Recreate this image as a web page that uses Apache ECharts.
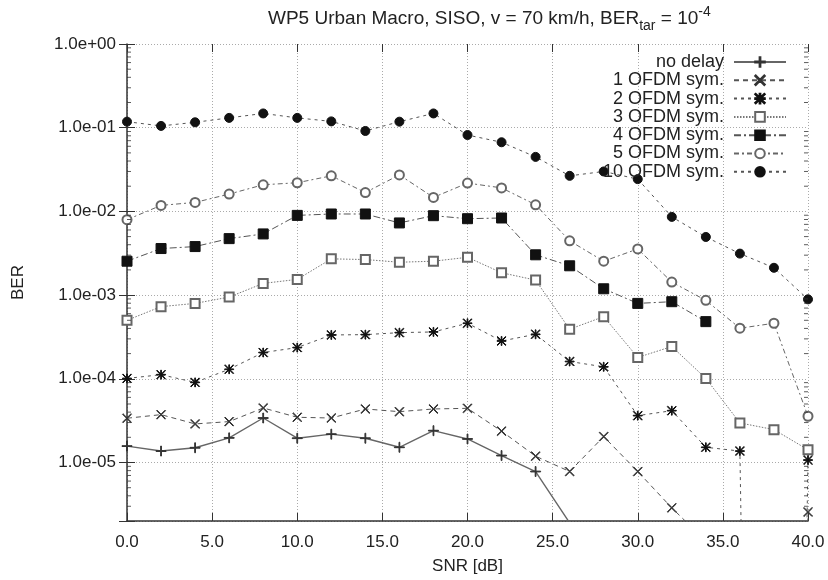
<!DOCTYPE html>
<html>
<head>
<meta charset="utf-8">
<script src="https://cdn.jsdelivr.net/npm/echarts@6/dist/echarts.min.js"></script>
<style>
html,body{margin:0;padding:0;background:#fff;}
#chart{width:828px;height:580px;}
</style>
</head>
<body>
<div id="chart"></div>
<script>
// SNR values (dB)
var snr = [0, 2, 4, 6, 8, 10, 12, 14, 16, 18, 20, 22, 24, 26, 28, 30, 32, 34, 36, 38, 40];
// x tick labels
var xTicks = [0, 5, 10, 15, 20, 25, 30, 35, 40];
// y tick labels (decades)
var yTicks = [1e-5, 1e-4, 1e-3, 1e-2, 1e-1, 1];
// y minor tick values (2..9 within each decade)
var yMinorTicks = [
  3e-6, 4e-6, 5e-6, 6e-6, 7e-6, 8e-6, 9e-6,
  2e-5, 3e-5, 4e-5, 5e-5, 6e-5, 7e-5, 8e-5, 9e-5,
  2e-4, 3e-4, 4e-4, 5e-4, 6e-4, 7e-4, 8e-4, 9e-4,
  2e-3, 3e-3, 4e-3, 5e-3, 6e-3, 7e-3, 8e-3, 9e-3,
  2e-2, 3e-2, 4e-2, 5e-2, 6e-2, 7e-2, 8e-2, 9e-2,
  0.2, 0.3, 0.4, 0.5, 0.6, 0.7, 0.8, 0.9
];

var seriesNames = ['no delay', '1 OFDM sym.', '2 OFDM sym.', '3 OFDM sym.', '4 OFDM sym.', '5 OFDM sym.', '10 OFDM sym.'];

// BER values (1e-30 = error free / below plot range)
var noDelay = [1.57e-5, 1.37e-5, 1.50e-5, 1.97e-5, 3.40e-5, 1.95e-5, 2.18e-5, 1.95e-5, 1.52e-5, 2.40e-5, 1.91e-5, 1.21e-5, 7.8e-6, 1.9e-6, null, null, null, null, null, null, null];
var ofdm1 = [3.38e-5, 3.73e-5, 2.89e-5, 3.08e-5, 4.48e-5, 3.47e-5, 3.40e-5, 4.36e-5, 4.05e-5, 4.36e-5, 4.44e-5, 2.37e-5, 1.19e-5, 7.8e-6, 2.04e-5, 7.8e-6, 2.87e-6, 1.15e-6, 1e-30, 1e-30, 2.56e-6];
var ofdm2 = [1.01e-4, 1.12e-4, 9.06e-5, 1.30e-4, 2.06e-4, 2.36e-4, 3.34e-4, 3.37e-4, 3.56e-4, 3.63e-4, 4.61e-4, 2.83e-4, 3.40e-4, 1.61e-4, 1.39e-4, 3.63e-5, 4.16e-5, 1.52e-5, 1.37e-5, 1e-30, 1.07e-5];
var ofdm3 = [5.0e-4, 7.28e-4, 7.96e-4, 9.47e-4, 1.38e-3, 1.54e-3, 2.71e-3, 2.66e-3, 2.47e-3, 2.54e-3, 2.83e-3, 1.85e-3, 1.51e-3, 3.91e-4, 5.53e-4, 1.80e-4, 2.43e-4, 1.01e-4, 2.97e-5, 2.47e-5, 1.42e-5];
var ofdm4 = [2.54e-3, 3.60e-3, 3.80e-3, 4.73e-3, 5.38e-3, 8.96e-3, 9.31e-3, 9.31e-3, 7.28e-3, 8.89e-3, 8.18e-3, 8.34e-3, 3.03e-3, 2.24e-3, 1.19e-3, 7.96e-4, 8.34e-4, 4.82e-4, null, null, null];
var ofdm5 = [7.96e-3, 1.18e-2, 1.28e-2, 1.61e-2, 2.08e-2, 2.20e-2, 2.66e-2, 1.68e-2, 2.73e-2, 1.47e-2, 2.18e-2, 1.91e-2, 1.20e-2, 4.45e-3, 2.54e-3, 3.56e-3, 1.43e-3, 8.65e-4, 4.02e-4, 4.61e-4, 3.57e-5];
var ofdm10 = [0.118, 0.105, 0.116, 0.131, 0.148, 0.131, 0.119, 0.0914, 0.118, 0.148, 0.0818, 0.067, 0.0448, 0.0266, 0.030, 0.0243, 0.0086, 0.00495, 0.00313, 0.00212, 0.00089];

var seriesData = [noDelay, ofdm1, ofdm2, ofdm3, ofdm4, ofdm5, ofdm10];

var FONT = 'Liberation Sans';
var TXT = '#222';
var AX = '#333';

var PLUS = 'path://M4.6,0H5.4V4.6H10V5.4H5.4V10H4.6V5.4H0V4.6H4.6Z';
var CROSS = 'path://M0,0.55L0.55,0L5,4.45L9.45,0L10,0.55L5.55,5L10,9.45L9.45,10L5,5.55L0.55,10L0,9.45L4.45,5Z';
var STAR = PLUS + 'M0,0.55L0.55,0L5,4.45L9.45,0L10,0.55L5.55,5L10,9.45L9.45,10L5,5.55L0.55,10L0,9.45L4.45,5Z';

var styles = [
  {symbol: PLUS, size: 10, color: '#333', line: '#666', width: 1.4, type: 'solid'},
  {symbol: CROSS, size: 9, color: '#333', line: '#555', width: 1, type: [5, 4]},
  {symbol: STAR, size: 9, color: '#111', line: '#555', width: 1, type: [3, 4]},
  {symbol: 'emptyRect', size: 9, color: '#666', line: '#777', width: 1, type: [1.5, 1.5]},
  {symbol: 'rect', size: 10, color: '#111', line: '#555', width: 1, type: [7, 3, 2, 3]},
  {symbol: 'emptyCircle', size: 9, color: '#666', line: '#666', width: 1, type: [5, 3, 2, 3]},
  {symbol: 'circle', size: 9, color: '#111', line: '#555', width: 1, type: [3, 4]}
];

function fmtY(v) {
  var l = Math.log10(v);
  var e = Math.round(l);
  if (Math.abs(l - e) > 1e-6) return '';
  var s = e < 0 ? '-' : '+';
  var a = Math.abs(e);
  return '1.0e' + s + (a < 10 ? '0' : '') + a;
}

var series = seriesNames.map(function (name, i) {
  var st = styles[i];
  return {
    name: name,
    type: 'line',
    xAxisIndex: 0,
    yAxisIndex: 0,
    data: snr.map(function (x, j) { return [x, seriesData[i][j]]; }),
    symbol: st.symbol,
    symbolSize: st.size,
    showAllSymbol: true,
    clip: true,
    connectNulls: false,
    animation: false,
    z: 3,
    itemStyle: {color: st.color, borderColor: st.color, borderWidth: 1},
    lineStyle: {color: st.line, width: st.width, type: st.type},
    emphasis: {disabled: true}
  };
});

// minor tick marks on the left (x = min) and right (x = max) frame edges
[[xTicks[0], 2], [xTicks[xTicks.length - 1], -2]].forEach(function (side) {
  series.push({
    name: 'minor-' + side[0],
    type: 'scatter',
    xAxisIndex: 0,
    yAxisIndex: 0,
    data: yMinorTicks.map(function (v) { return [side[0], v]; }),
    symbol: 'rect',
    symbolSize: [4, 1],
    symbolOffset: [side[1], 0],
    clip: false,
    silent: true,
    animation: false,
    z: 4,
    itemStyle: {color: AX},
    emphasis: {disabled: true}
  });
});

var chart = echarts.init(document.getElementById('chart'), null, {renderer: 'canvas'});
chart.setOption({
  animation: false,
  backgroundColor: '#fff',
  textStyle: {fontFamily: FONT, color: TXT},
  title: {
    text: '{a|WP5 Urban Macro, SISO, v = 70 km/h, BER}{sub|tar}{a| = 10}{sup|-4}',
    left: 263,
    top: 0,
    textStyle: {
      fontWeight: 'normal',
      rich: {
        a: {fontFamily: FONT, fontSize: 19, fontWeight: 'normal', color: TXT, lineHeight: 28},
        sub: {fontFamily: FONT, fontSize: 14, fontWeight: 'normal', color: TXT, lineHeight: 13, verticalAlign: 'bottom'},
        sup: {fontFamily: FONT, fontSize: 14, fontWeight: 'normal', color: TXT, lineHeight: 13, verticalAlign: 'top'}
      }
    }
  },
  legend: {
    orient: 'vertical',
    right: 41,
    top: 53,
    align: 'right',
    itemWidth: 52,
    itemHeight: 12,
    itemGap: 0.3,
    padding: 0,
    selectedMode: false,
    textStyle: {fontFamily: FONT, fontSize: 18, color: TXT, padding: [0, 5, 0, 0]},
    data: seriesNames
  },
  grid: {left: 127, right: 20, top: 44, bottom: 58, containLabel: false},
  xAxis: [{
    type: 'value',
    position: 'bottom',
    min: 0, max: 40, interval: 5,
    name: 'SNR [dB]',
    nameLocation: 'middle',
    nameGap: 37,
    nameTextStyle: {fontFamily: FONT, fontSize: 17, color: TXT},
    axisLine: {show: true, lineStyle: {color: AX, width: 1.5}},
    axisTick: {show: true, inside: true, length: 8, lineStyle: {color: AX}},
    axisLabel: {
      fontFamily: FONT, fontSize: 17, color: TXT, margin: 13,
      customValues: xTicks,
      formatter: function (v) { return v.toFixed(1); }
    },
    splitLine: {show: true, lineStyle: {color: '#aaa', type: [1, 2], width: 1}}
  }, {
    type: 'value',
    position: 'top',
    min: 0, max: 40, interval: 5,
    axisLine: {show: false},
    axisTick: {show: true, inside: true, length: 8, lineStyle: {color: AX}},
    axisLabel: {show: false},
    splitLine: {show: false}
  }],
  yAxis: [{
    type: 'log',
    logBase: 10,
    position: 'left',
    min: 2e-6, max: 1,
    name: 'BER',
    nameLocation: 'middle',
    nameGap: 100,
    nameRotate: 90,
    nameTextStyle: {fontFamily: FONT, fontSize: 17, color: TXT},
    axisLine: {show: true, lineStyle: {color: AX, width: 1.5}},
    axisTick: {show: true, inside: true, length: 8, lineStyle: {color: AX}},
    minorTick: {show: false},
    axisLabel: {fontFamily: FONT, fontSize: 17, color: TXT, margin: 11, customValues: yTicks, formatter: fmtY},
    splitLine: {show: true, lineStyle: {color: '#aaa', type: [1, 2], width: 1}}
  }, {
    type: 'log',
    logBase: 10,
    position: 'right',
    min: 2e-6, max: 1,
    axisLine: {show: false},
    axisTick: {show: true, inside: true, length: 8, lineStyle: {color: AX}},
    minorTick: {show: false},
    axisLabel: {show: false},
    splitLine: {show: false}
  }],
  series: series
});
</script>
</body>
</html>
